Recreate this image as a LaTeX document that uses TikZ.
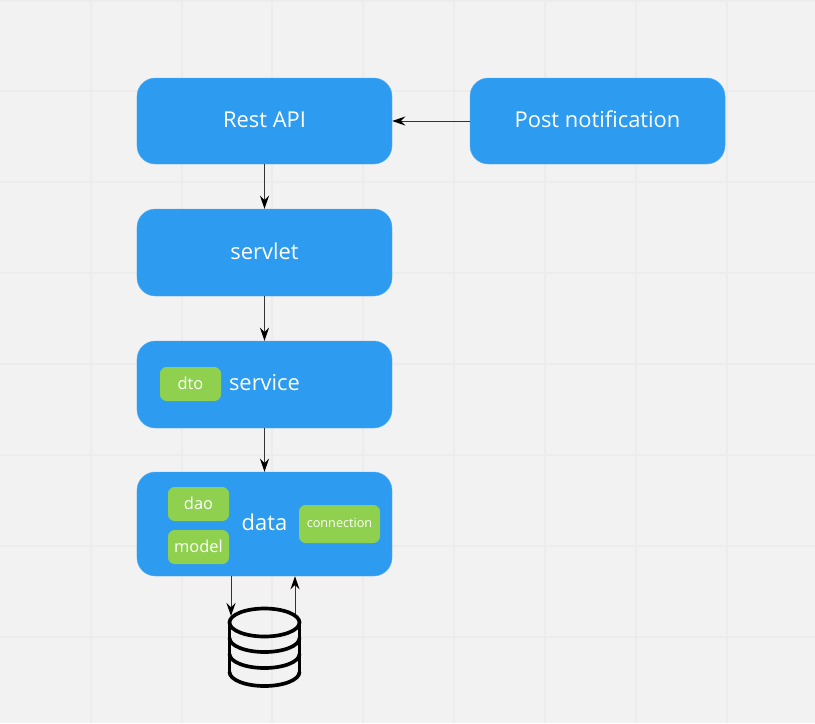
\documentclass[tikz,border=0pt]{standalone}
\usepackage{fontspec}
\setmainfont{Open Sans}
\usetikzlibrary{arrows.meta}
\definecolor{boardgray}{HTML}{F2F2F2}
\definecolor{gridgray}{HTML}{ECECEC}
\definecolor{boxblue}{HTML}{2D9BF0}
\definecolor{boxgreen}{HTML}{8FD14F}
\tikzset{
  layer/.style={draw=boxblue!80!white, line width=0.4pt, fill=boxblue, text=white, rounded corners=0.55cm, inner sep=0pt,
    minimum width=7.65cm, text depth=0.1cm, font=\fontsize{18.7}{22}\selectfont},
  part/.style={fill=boxgreen, text=white, rounded corners=0.2cm, inner sep=0pt,
    minimum width=1.83cm, minimum height=1.02cm, text depth=0.06cm, font=\fontsize{14}{16}\selectfont},
  link/.style={->, draw=black!80, line width=0.03cm},
  dbline/.style={line width=0.11cm, line cap=round, line join=round}
}
\begin{document}
\begin{tikzpicture}[x=0.03cm, y=-0.03cm, >={Stealth[length=0.39cm, width=0.27cm, black]}]
	\fill[boardgray] (0,0) rectangle (815,723);
	\useasboundingbox (0,0) rectangle (815,723);
	\foreach \k in {91,182,272,363,454,545,636,727}
		\draw[gridgray, line width=0.04cm] (\k,0) -- (\k,723);
	\foreach \k in {1,91,182,273,364,455,546,637}
		\draw[gridgray, line width=0.04cm] (0,\k) -- (815,\k);

	\node[layer, minimum height=2.58cm] at (264.5, 121)  (rest)   {Rest API};
	\node[layer, minimum height=2.58cm] at (597.5, 121)  (post)   {Post notification};
	\node[layer, minimum height=2.61cm] at (264.5, 252.5) (servlet) {servlet};
	\node[layer, minimum height=2.61cm] at (264.5, 384.5) (service) {service};
	\node[layer, minimum height=3.12cm] at (264.5, 524)  (data)   {data};

	\node[part] at (190.5, 384) (dto)   {dto};
	\node[part] at (198.5, 504) (dao)   {dao};
	\node[part] at (198.5, 547) (model) {model};
	\node[part, minimum width=2.43cm, minimum height=1.14cm, font=\fontsize{10.8}{12}\selectfont] at (339.5, 524) (connection) {connection};

	% database
	\draw[dbline] (264.5, 622.5) ellipse[x radius=1.05cm, y radius=0.42cm];
	\draw[dbline] (229.5, 622.5) -- (229.5, 672);
	\draw[dbline] (299.5, 622.5) -- (299.5, 672);
	\draw[dbline] (229.5, 638) arc[start angle=180, end angle=360, x radius=1.05cm, y radius=0.42cm];
	\draw[dbline] (229.5, 654) arc[start angle=180, end angle=360, x radius=1.05cm, y radius=0.42cm];
	\draw[dbline] (229.5, 672) arc[start angle=180, end angle=360, x radius=1.05cm, y radius=0.42cm];
	\coordinate (dbin) at (231, 616);
	\coordinate (dbout) at (295, 614);

	\draw[link] (post) -- (rest);
	\draw[link] (rest) -- (servlet);
	\draw[link] (servlet) -- (service);
	\draw[link] (service) -- (data);
	\draw[link] (data.south -| dbin) -- (dbin);
	\draw[link] (dbout) -- (data.south -| dbout);
\end{tikzpicture}
\end{document}
